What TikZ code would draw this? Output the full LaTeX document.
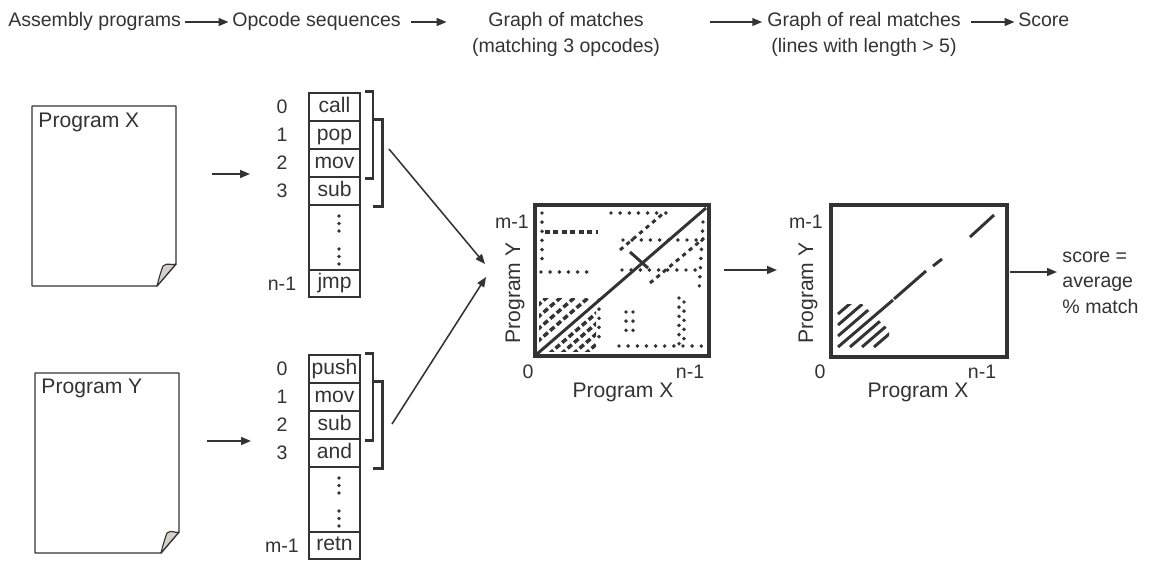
\documentclass[tikz,border=0pt]{standalone}
\usepackage{fontspec}
\setmainfont{Liberation Sans}
\usetikzlibrary{arrows.meta}
\definecolor{ink}{HTML}{333333}
\definecolor{curl}{HTML}{D4D0CC}

\begin{document}
\begin{tikzpicture}[x=0.025cm, y=-0.025cm, ink, font=\fontsize{13.9}{18.1}\selectfont,
    heading/.style ={inner sep=2.5pt, text height=10pt, text depth=3pt},
    title/.style ={font=\fontsize{15}{18}\selectfont},
    flow/.style ={-{Triangle[length=7pt,width=5.6pt]}, line width=1.1pt},
    opcode/.style ={draw, title, line width=1.8pt, minimum width=36.3pt, minimum height=19.9pt, inner sep=0pt, text height=10.5pt, text depth=3pt},
    grouping/.style ={line width=1.8pt},
    sheet/.style ={draw, line width=1pt, fill=white, line join=round},
    plotbox/.style ={draw, line width=2.6pt, inner sep=0pt},
    hitline/.style ={line width=2.1pt},
    hitdots/.style ={line width=2.8pt, line cap=round, dash pattern=on 0pt off 6.5pt}]
   \useasboundingbox (0,0) rectangle (1156,560);

   % steps along the top
   \node[heading, anchor=west] (asm) at (4.5,22) {Assembly programs};
   \node[heading, anchor=west] (ops) at (228.5,22) {Opcode sequences};
   \node[heading] (gm) at (566,22) {Graph of matches};
   \node[heading] (gmnote) at (566,48) {(matching 3 opcodes)};
   \node[heading] (grm) at (864,22) {Graph of real matches};
   \node[heading] (grmnote) at (864,48) {(lines with length > 5)};
   \node[heading, anchor=west] (score) at (1014.5,22) {Score};
   \draw[flow] (asm) -- (ops);
   \draw[flow, shorten <=4.5pt, shorten >=27pt] (ops) -- (gm);
   \draw[flow, shorten <=44.8pt, shorten >=1pt] (gm) -- (grm);
   \draw[flow, shorten <=4.3pt] (grm) -- (score);

   % the two programs
   \draw[sheet] (32,106) -- (176,106) -- (176,264) -- (157,286) -- (32,286) -- cycle;
   \filldraw[line width=0.8pt, fill=curl, line join=round] (157,286) .. controls (159,278) and (161,271) .. (163,266) .. controls (167,262) and (172,266) .. (176,264) -- cycle;
   \node[title, anchor=west] (progX) at (33.5,122) {Program X};
   \draw[sheet] (35,373) -- (179,373) -- (179,532) -- (161,553) -- (35,553) -- cycle;
   \filldraw[line width=0.8pt, fill=curl, line join=round] (161,553) .. controls (163,545) and (165,538) .. (167,533) .. controls (171,529) and (176,534) .. (179,532) -- cycle;
   \node[title, anchor=west] (progY) at (36.5,388) {Program Y};
   \coordinate (inX) at (212,174);
   \coordinate (outX) at (250,174);
   \coordinate (inY) at (207,441);
   \coordinate (outY) at (251,441);
   \draw[flow] (inX) -- (outX);
   \draw[flow] (inY) -- (outY);

   % opcode sequence of X
   \node[opcode] (x0) at (334.5,107) {call};
   \node[opcode] (x1) at (334.5,135) {pop};
   \node[opcode] (x2) at (334.5,163) {mov};
   \node[opcode] (x3) at (334.5,191) {sub};
   \node[opcode, minimum height=46.2pt] (xdots) at (334.5,237.5) {};
   \node[opcode, minimum height=19.2pt] (xlast) at (334.5,283.5) {jmp};
   \node (ix0) at (282,107) {0};
   \node (ix1) at (282,135) {1};
   \node (ix2) at (282,163) {2};
   \node (ix3) at (282,191) {3};
   \node (ixlast) at (282,283.5) {n-1};
   \fill (339,216) circle (1.3pt) (339,223.5) circle (1.3pt) (339,231) circle (1.3pt);
   \fill (339,249) circle (1.3pt) (339,256.5) circle (1.3pt) (339,264) circle (1.3pt);
   \draw[grouping] ([xshift=2.8pt]x0.north east) -- ++(8,0) |- ([xshift=2.8pt]x2.south east);
   \draw[grouping] ([xshift=8.5pt]x1.north east) -- ++(9,0) |- ([xshift=8.5pt]x3.south east);

   % opcode sequence of Y
   \node[opcode] (y0) at (334.5,369) {push};
   \node[opcode] (y1) at (334.5,397) {mov};
   \node[opcode] (y2) at (334.5,425) {sub};
   \node[opcode] (y3) at (334.5,453) {and};
   \node[opcode, minimum height=46.2pt] (ydots) at (334.5,499.5) {};
   \node[opcode, minimum height=19.2pt] (ylast) at (334.5,545.5) {retn};
   \node (iy0) at (282,369) {0};
   \node (iy1) at (282,397) {1};
   \node (iy2) at (282,425) {2};
   \node (iy3) at (282,453) {3};
   \node (iylast) at (282,545.5) {m-1};
   \fill (339,478) circle (1.3pt) (339,485.5) circle (1.3pt) (339,493) circle (1.3pt);
   \fill (339,511) circle (1.3pt) (339,518.5) circle (1.3pt) (339,526) circle (1.3pt);
   \draw[grouping] ([xshift=2.8pt]y0.north east) -- ++(8,0) |- ([xshift=2.8pt]y2.south east);
   \draw[grouping] ([xshift=8.5pt]y1.north east) -- ++(9,0) |- ([xshift=8.5pt]y3.south east);

   % into the graph of matches
   \coordinate (fromX) at (389,149);
   \coordinate (toX) at (485,264);
   \coordinate (fromY) at (392,424);
   \coordinate (toY) at (486,277);
   \draw[flow] (fromX) -- (toX);
   \draw[flow] (fromY) -- (toY);

   % graph of matches
   \begin{scope}
      \clip (537,207) rectangle (707,354);
      \draw[hitline] (537,354) -- (706,208);
      \begin{scope}
         \clip (539,298) rectangle (596,351);
         \draw[hitline, line width=2.5pt, dash pattern=on 4pt off 2.2pt]
            (537,342) -- ++(70,-60.5) (537,330) -- ++(70,-60.5) (537,318) -- ++(70,-60.5)
            (537,306) -- ++(70,-60.5)
            (549,354) -- ++(70,-60.5) (561,354) -- ++(70,-60.5) (573,354) -- ++(70,-60.5)
            (585,354) -- ++(70,-60.5);
      \end{scope}
      \draw[hitline, line width=2.5pt, dash pattern=on 3.5pt off 2.5pt] (545,232) -- (598,232);
      \draw[hitdots] (541,272) -- (590,272);
      \draw[hitdots] (611,213) -- (666,213);
      \draw[hitdots] (623,240) -- (704,240);
      \draw[hitdots] (622,270) -- (704,270);
      \draw[hitdots] (542,213) -- (542,260);
      \draw[hitdots] (703,222) -- (699,292);
      \draw[hitdots] (599,300) -- (599,344);
      \draw[hitdots] (626,312) -- (626,338) (633,312) -- (633,338);
      \draw[hitdots] (679,298) -- (679,344) (684,302) -- (684,340);
      \draw[hitdots] (619,346) -- (704,346);
      \draw[hitline, dash pattern=on 3pt off 3pt] (620,250) -- (665,212) (650,283) -- (704,238);
      \draw[hitline] (630,252) -- (648,268);
   \end{scope}
   \node[plotbox, minimum width=123.7pt, minimum height=107.4pt] (plotAll) at (622,280.5) {};
   \node[anchor=east, inner sep=0pt] (topAll) at (529,222) {m-1};
   \node (zeroAll) at (528,372) {0};
   \node (endAll) at (690,372) {n-1};
   \node[title] (xAll) at (623,392) {Program X};
   \node[title, rotate=90] (yAll) at (515,293) {Program Y};

   \coordinate (fromAll) at (724,270);
   \coordinate (toReal) at (777,270);
   \draw[flow] (fromAll) -- (toReal);

   % graph of real matches
   \begin{scope}
      \clip (836,304) -- (862,304) -- (889,330) -- (889,350) -- (836,350) -- cycle;
      \draw[hitline]
         (838,336) -- ++(50,-43) (838,325) -- ++(50,-43) (838,314) -- ++(50,-43)
         (850,347) -- ++(50,-43) (862,347) -- ++(50,-43) (874,347) -- ++(50,-43);
   \end{scope}
   \draw[hitline] (838,347) -- (893,300) (894,299) -- (926,271) (933,266) -- (942,259) (970,237) -- (994,215);
   \node[plotbox, minimum width=125.1pt, minimum height=108.1pt] (plotReal) at (919,281) {};
   \node[anchor=east, inner sep=0pt] (topReal) at (823,222) {m-1};
   \node (zeroReal) at (820,372) {0};
   \node (endReal) at (982,372) {n-1};
   \node[title] (xReal) at (918,392) {Program X};
   \node[title, rotate=90] (yReal) at (808,293) {Program Y};

   \coordinate (fromReal) at (1010,272);
   \coordinate (toScore) at (1057,272);
   \draw[flow] (fromReal) -- (toScore);
   \node[anchor=west, align=left] (average) at (1057.5,282.5) {score =\\average\\\% match};
\end{tikzpicture}
\end{document}
